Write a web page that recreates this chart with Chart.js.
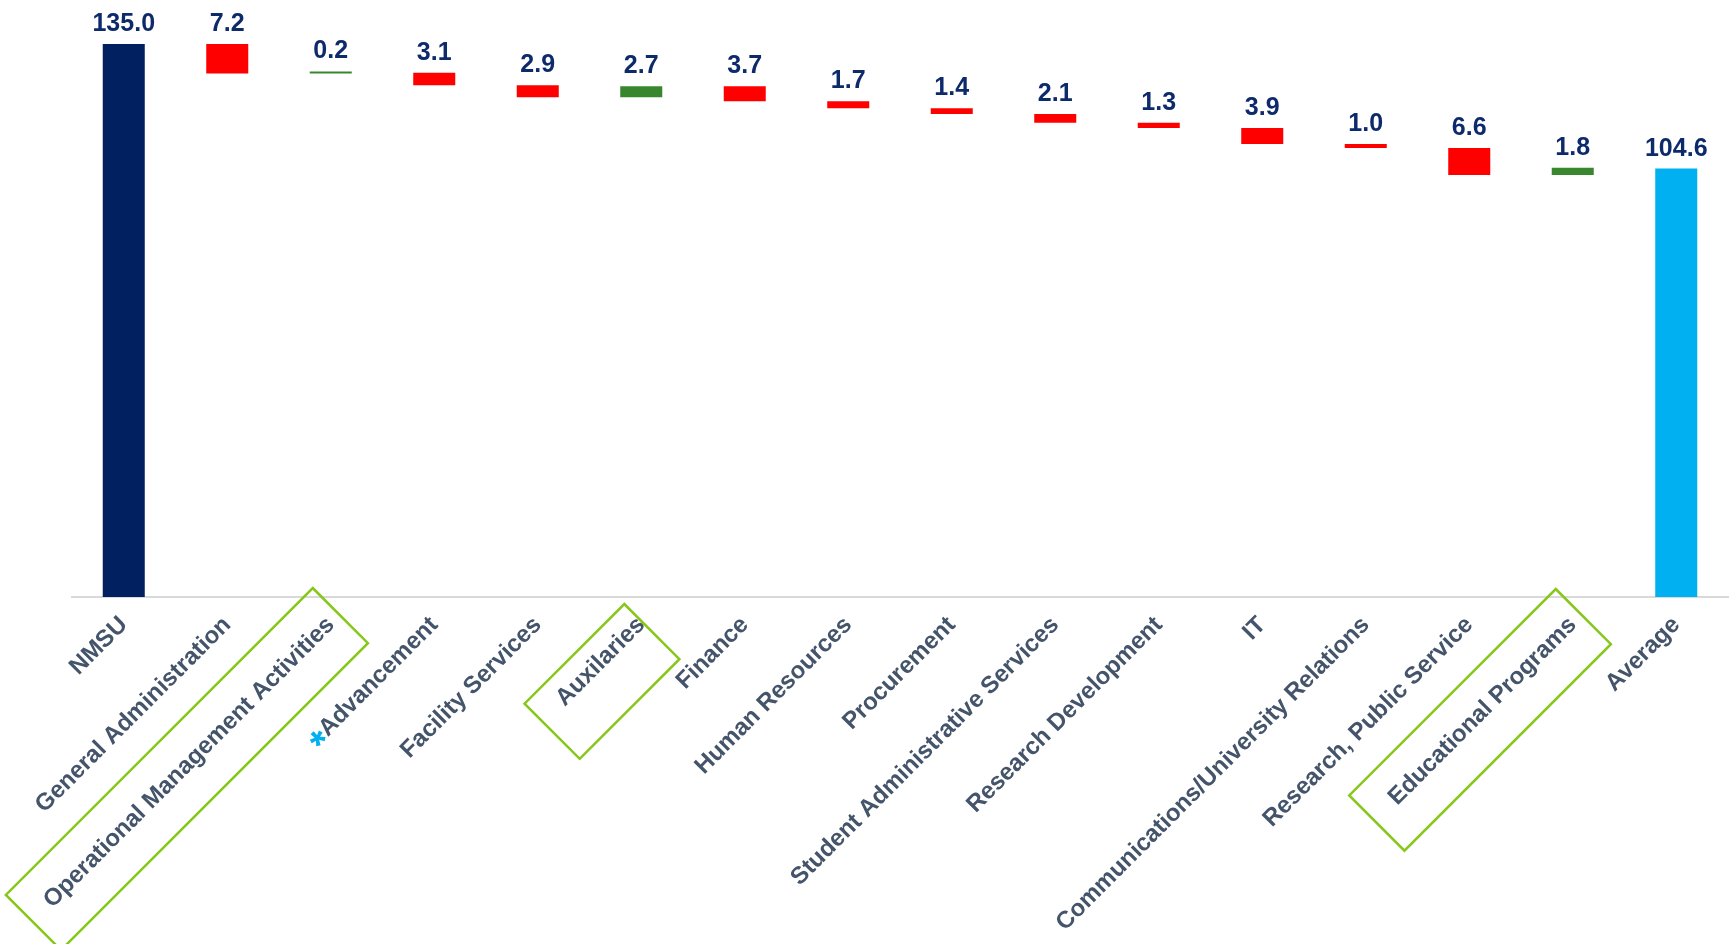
<!DOCTYPE html>
<html>
<head>
<meta charset="utf-8">
<title>Cost per FTE waterfall</title>
<script src="https://cdn.jsdelivr.net/npm/chart.js@4.4.1/dist/chart.umd.min.js"></script>
<style>
  html, body { margin: 0; padding: 0; background: #fff; }
  #wrap { width: 1729px; height: 944px; }
</style>
</head>
<body>
<div id="wrap"><canvas id="chart"></canvas></div>
<script>
// categories and values of the waterfall
const categories = ['NMSU', 'General Administration', 'Operational Management Activities', 'Advancement',
  'Facility Services', 'Auxilaries', 'Finance', 'Human Resources', 'Procurement',
  'Student Administrative Services', 'Research Development', 'IT',
  'Communications/University Relations', 'Research, Public Service', 'Educational Programs', 'Average'];
const startTotal = 135.0;
// signed steps between the two totals (negative = red, positive = green)
const changes = [-7.2, 0.2, -3.1, -2.9, 2.7, -3.7, -1.7, -1.4, -2.1, -1.3, -3.9, -1.0, -6.6, 1.8];
const endTotal = 104.6;

// labels that get an outline box, and the one with a star
const boxedLabels = ['Operational Management Activities', 'Auxilaries', 'Educational Programs'];
const starredLabel = 'Advancement';

// build floating bars
const bars = [[0, startTotal]];
const colors = ['#002060'];
const shown = [startTotal];
let level = startTotal;
changes.forEach(c => {
  const next = level + c;
  bars.push([Math.min(level, next), Math.max(level, next)]);
  colors.push(c < 0 ? '#ff0000' : '#38872e');
  shown.push(Math.abs(c));
  level = next;
});
bars.push([0, endTotal]);
colors.push('#00b0f0');
shown.push(endTotal);

const tickFont = '"Liberation Sans", Arial, sans-serif';

const boxShapes = {
  'Operational Management Activities': { dx: -18, dy: -9, len: 434 },
  'Auxilaries': { dx: -17, dy: 7, len: 141 },
  'Educational Programs': { dx: -17, dy: -8, len: 292 }
};

const decorPlugin = {
  id: 'decor',
  afterDraw(chart) {
    const ctx = chart.ctx;
    const xs = chart.scales.x;
    const meta = chart.getDatasetMeta(0);

    // value labels above each bar
    ctx.save();
    ctx.font = 'bold 25px ' + tickFont;
    ctx.fillStyle = '#0d2a6b';
    ctx.textAlign = 'center';
    ctx.textBaseline = 'alphabetic';
    meta.data.forEach((el, i) => {
      const top = Math.min(el.y, el.base);
      ctx.fillText(shown[i].toFixed(1), el.x, top - 13);
    });
    ctx.restore();

    // outline boxes around selected axis labels
    const axisY = xs.top;
    const s = Math.SQRT1_2;
    ctx.save();
    ctx.strokeStyle = '#86c71a';
    ctx.lineWidth = 2.5;
    boxedLabels.forEach(name => {
      const i = categories.indexOf(name);
      const b = boxShapes[name];
      const x0 = xs.getPixelForValue(i) + b.dx;
      const y0 = axisY + b.dy;
      const w = 78;
      const p2 = [x0 + w * s, y0 + w * s];
      const p3 = [p2[0] - b.len * s, p2[1] + b.len * s];
      const p4 = [x0 - b.len * s, y0 + b.len * s];
      ctx.beginPath();
      ctx.moveTo(x0, y0);
      ctx.lineTo(p2[0], p2[1]);
      ctx.lineTo(p3[0], p3[1]);
      ctx.lineTo(p4[0], p4[1]);
      ctx.closePath();
      ctx.stroke();
    });
    ctx.restore();

    // star in front of one label
    const items = xs.getLabelItems();
    const item = items[categories.indexOf(starredLabel)];
    if (item) {
      ctx.save();
      const [tx, ty] = item.options.translation;
      ctx.translate(tx, ty);
      ctx.rotate(item.options.rotation);
      ctx.font = 'bold 24px ' + tickFont;
      const wText = ctx.measureText(starredLabel).width;
      ctx.font = 'bold 40px ' + tickFont;
      ctx.fillStyle = '#00b0f0';
      ctx.textAlign = 'right';
      ctx.textBaseline = 'middle';
      ctx.fillText('*', -wText, item.textOffset + 9);
      ctx.restore();
    }
  }
};

new Chart(document.getElementById('chart'), {
  type: 'bar',
  data: {
    labels: categories,
    datasets: [{
      data: bars,
      backgroundColor: colors,
      borderWidth: 0,
      barPercentage: 0.406,
      categoryPercentage: 1,
      minBarLength: 2
    }]
  },
  options: {
    responsive: true,
    maintainAspectRatio: false,
    animation: false,
    layout: { padding: { top: 44, left: 72, right: 1, bottom: 0 } },
    plugins: {
      legend: { display: false },
      tooltip: { enabled: false }
    },
    scales: {
      x: {
        grid: { display: false, drawTicks: false },
        border: { display: true, color: '#d9d9d9', width: 2 },
        ticks: {
          autoSkip: false,
          maxRotation: 45,
          minRotation: 45,
          padding: 14,
          color: '#44546a',
          font: { family: tickFont, size: 24, weight: 'bold' }
        },
        afterFit(scale) {
          scale.height = 347;
          scale.paddingLeft = 0;
          scale.paddingRight = 0;
        }
      },
      y: {
        display: false,
        min: 0,
        max: 135
      }
    }
  },
  plugins: [decorPlugin]
});
</script>
</body>
</html>
